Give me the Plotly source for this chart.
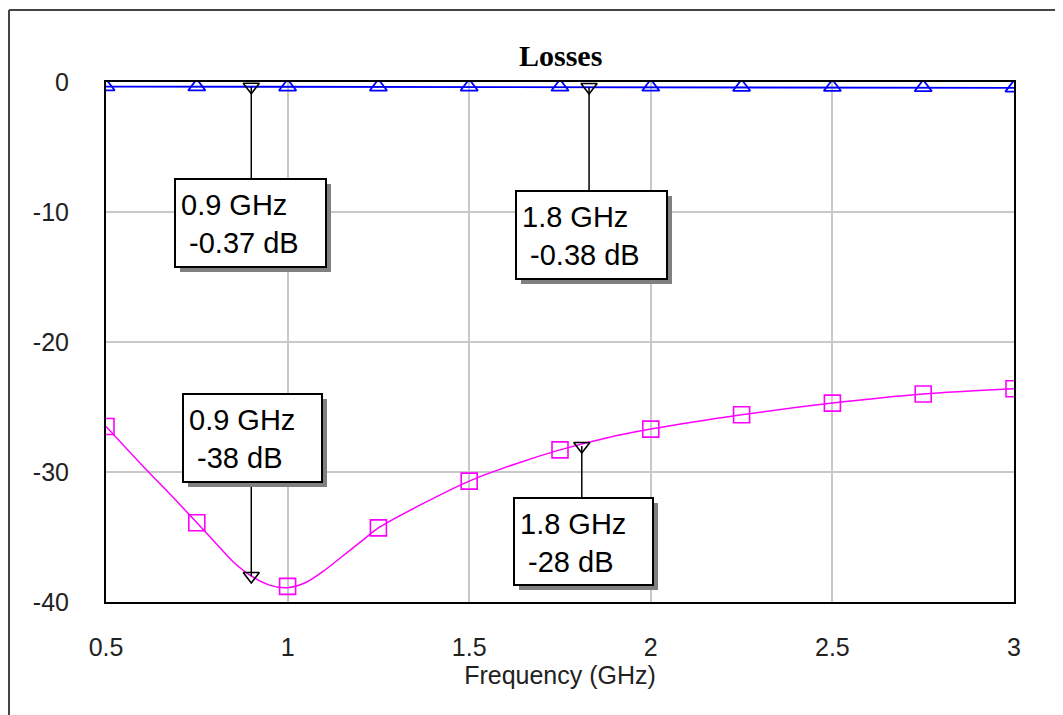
import plotly.graph_objects as go

# ---------------- data ----------------
freq_markers = [0.5, 0.75, 1.0, 1.25, 1.5, 1.75, 2.0, 2.25, 2.5, 2.75, 3.0]
s21_db = [-0.35, -0.36, -0.37, -0.37, -0.37, -0.38, -0.38, -0.39, -0.40, -0.42, -0.45]
s11_db = [-26.5, -33.9, -38.8, -34.3, -30.7, -28.3, -26.7, -25.6, -24.7, -24.0, -23.6]

# return-loss curve traced between the square markers
freq_curve = [0.5, 0.6, 0.7, 0.8, 0.85, 0.9, 0.95, 1.0, 1.05, 1.1, 1.15, 1.2, 1.25,
              1.375, 1.5, 1.625, 1.75, 1.875, 2.0, 2.25, 2.5, 2.75, 3.0]
s11_curve = [-26.5, -29.5, -32.4, -35.4, -36.9, -38.0, -38.7, -38.9, -38.5, -37.6,
             -36.5, -35.4, -34.3, -32.4, -30.7, -29.4, -28.3, -27.4, -26.7, -25.6,
             -24.7, -24.0, -23.6]

# marker readouts
mk_top_freq = [0.9, 1.83]
mk_top_val = [-0.37, -0.38]
mk_top_text = ["0.9 GHz<br>\u00a0-0.37 dB", "1.8 GHz<br>\u00a0-0.38 dB"]
mk_bot_freq = [0.9, 1.81]
mk_bot_val = [-38.0, -28.0]
mk_bot_text = ["0.9 GHz<br>\u00a0-38 dB", "1.8 GHz<br>\u00a0-28 dB"]

x_ticks = [0.5, 1, 1.5, 2, 2.5, 3]
x_tick_text = ["0.5", "1", "1.5", "2", "2.5", "3"]
y_ticks = [0, -10, -20, -30, -40]
y_tick_text = ["0", "-10", "-20", "-30", "-40"]

# ---------------- layout geometry ----------------
# page pixels of the reference; the page body adds an 8px offset
OFF = 8
PW, PH = 1063, 715
W, H = PW, PH
L, R, T, B = 106, 1014, 82, 602   # plot area in page px


def pxx(px):
    return (px - L) / (R - L)


def pxy(py):
    return (B - py) / (B - T)


FONT = "Liberation Sans, Arial, sans-serif"

fig = go.Figure()

# blue (insertion loss)
fig.add_trace(go.Scatter(
    x=freq_markers, y=s21_db, mode="lines+markers",
    line=dict(color="#0000FF", width=1.8),
    marker=dict(symbol="triangle-up-open", size=15, color="#0000FF",
                line=dict(width=1.8, color="#0000FF")),
    showlegend=False, hoverinfo="skip"))

# magenta (return loss) curve + markers
fig.add_trace(go.Scatter(
    x=freq_curve, y=s11_curve, mode="lines",
    line=dict(color="#FF00FF", width=1.5, shape="spline", smoothing=0.8),
    showlegend=False, hoverinfo="skip"))
fig.add_trace(go.Scatter(
    x=freq_markers, y=s11_db, mode="markers",
    marker=dict(symbol="square-open", size=16, color="#FF00FF",
                line=dict(width=1.6, color="#FF00FF")),
    showlegend=False, hoverinfo="skip"))

# marker readout triangles
fig.add_trace(go.Scatter(
    x=mk_top_freq + mk_bot_freq, y=mk_top_val + mk_bot_val,
    mode="markers",
    marker=dict(symbol="triangle-down-open", size=14, color="black",
                line=dict(width=1.6, color="black")),
    showlegend=False, hoverinfo="skip"))

shapes = []
annotations = []

# outer frame (left and top edges visible in the picture)
shapes.append(dict(type="line", xref="paper", yref="paper",
                   x0=pxx(9), x1=pxx(9), y0=pxy(PH + 30), y1=pxy(10),
                   line=dict(color="#444444", width=2), layer="below"))
shapes.append(dict(type="line", xref="paper", yref="paper",
                   x0=pxx(9), x1=pxx(PW + 30), y0=pxy(10), y1=pxy(10),
                   line=dict(color="#444444", width=2), layer="below"))

# readout boxes: (left, top, right, bottom) in page px
boxes_top = [(175, 179, 326, 267), (516, 191, 667, 279)]
boxes_bot = [(183, 394, 322, 482), (514, 498, 653, 585)]

DB_PX = (B - T) / 40.0


def add_box(box, text):
    x0, y0, x1, y1 = box
    sh = 5
    shapes.append(dict(type="rect", xref="paper", yref="paper",
                       x0=pxx(x0 + sh), x1=pxx(x1 + sh), y0=pxy(y1 + sh), y1=pxy(y0 + sh),
                       line=dict(width=0), fillcolor="#808080", layer="above"))
    shapes.append(dict(type="rect", xref="paper", yref="paper",
                       x0=pxx(x0), x1=pxx(x1), y0=pxy(y1), y1=pxy(y0),
                       line=dict(width=2, color="black"), fillcolor="white", layer="above"))
    annotations.append(dict(xref="paper", yref="paper", x=pxx(x0 + 4), y=pxy((y0 + y1) / 2 + 1),
                            xanchor="left", yanchor="middle", align="left", showarrow=False,
                            text=text, font=dict(family=FONT, size=29, color="black")))


for f, v, box, txt in zip(mk_top_freq, mk_top_val, boxes_top, mk_top_text):
    shapes.append(dict(type="line", xref="x", yref="y", x0=f, x1=f, y0=v,
                       y1=-(box[1] - T) / DB_PX, line=dict(color="black", width=1.5),
                       layer="above"))
    add_box(box, txt)

for f, v, box, txt in zip(mk_bot_freq, mk_bot_val, boxes_bot, mk_bot_text):
    edge = box[3] if v < -35 else box[1]
    shapes.append(dict(type="line", xref="x", yref="y", x0=f, x1=f, y0=v,
                       y1=-(edge - T) / DB_PX, line=dict(color="black", width=1.5),
                       layer="above"))
    add_box(box, txt)

# title
annotations.append(dict(xref="paper", yref="paper", x=0.5, y=pxy(56), xanchor="center",
                        yanchor="middle", showarrow=False, text="<b>Losses</b>",
                        font=dict(family="Liberation Serif, Times New Roman, serif",
                                  size=30, color="black")))

fig.update_layout(
    width=W, height=H,
    margin=dict(l=L - OFF, r=(OFF + W) - R, t=T - OFF, b=(OFF + H) - B, pad=0),
    paper_bgcolor="white", plot_bgcolor="white",
    shapes=shapes, annotations=annotations,
    xaxis=dict(range=[0.5, 3], tickvals=x_ticks, ticktext=x_tick_text,
               showgrid=True, gridcolor="#C8C8C8", gridwidth=1.5,
               showline=True, linecolor="black", linewidth=2, mirror=True,
               zeroline=False, ticks="", ticklabelstandoff=22,
               tickfont=dict(family=FONT, size=25, color="#222222"),
               title=dict(text="Frequency (GHz)", standoff=6,
                          font=dict(family=FONT, size=25, color="#222222"))),
    yaxis=dict(range=[-40, 0], tickvals=y_ticks, ticktext=y_tick_text,
               showgrid=True, gridcolor="#C8C8C8", gridwidth=1.5,
               showline=True, linecolor="black", linewidth=2, mirror=True,
               zeroline=False, ticks="", ticklabelstandoff=30,
               tickfont=dict(family=FONT, size=25, color="#222222")),
)

fig.write_html("out.html")
